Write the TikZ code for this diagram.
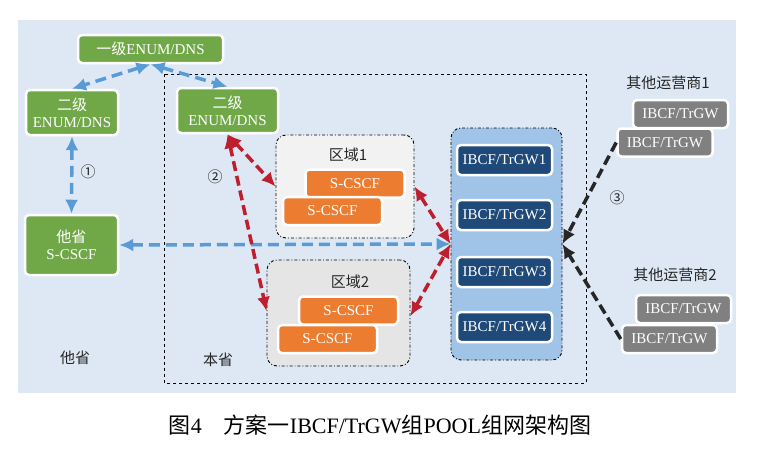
\documentclass[tikz,border=0pt]{standalone}
\usepackage{fontspec}
\setmainfont{Liberation Serif}
\newfontfamily\cjk{Noto Sans CJK SC}
\usepackage{tikz}
\usetikzlibrary{arrows.meta}
\tikzset{>={Latex[length=14pt,width=13pt]}}

\definecolor{panelbg}{RGB}{221,232,244}
\definecolor{boxgreen}{RGB}{112,168,72}
\definecolor{boxorange}{RGB}{236,124,48}
\definecolor{boxnavy}{RGB}{31,73,121}
\definecolor{boxgray}{RGB}{128,128,128}
\definecolor{poolblue}{RGB}{160,196,232}
\definecolor{arrowblue}{RGB}{91,155,213}
\definecolor{arrowred}{RGB}{190,30,45}

\tikzset{
  basebox/.style={rounded corners=4pt, draw=white, line width=2.5pt, text=white,
    inner sep=0pt, align=center, font=\fontsize{15}{17}\selectfont},
  greenbox/.style={basebox, fill=boxgreen},
  orangebox/.style={basebox, fill=boxorange, minimum width=99pt, minimum height=28pt},
  gwbox/.style={basebox, fill=boxnavy, minimum width=95pt, minimum height=30pt},
  opbox/.style={basebox, fill=boxgray, minimum width=95pt, minimum height=28pt},
  regionbox/.style={rounded corners=10pt, draw=black, line width=0.9pt, dash dot},
  lbl/.style={text=black!85, font=\fontsize{15}{17}\selectfont\cjk},
  bluearrow/.style={<->, draw=arrowblue, line width=3.5pt, dash pattern=on 11pt off 6pt},
  redarrow/.style={<->, draw=arrowred, line width=3.5pt, dash pattern=on 10pt off 5pt},
  blackarrow/.style={->, draw=black!85, line width=3.5pt, dash pattern=on 10pt off 5pt}
}

\begin{document}
\begin{tikzpicture}[x=1pt, y=-1pt]
    \useasboundingbox (0,0) rectangle (761,453);
    \fill[panelbg] (18,20) rectangle (736,393);
    % 本省
    \draw[black, line width=0.9pt, dashed] (164,74) rectangle (586,383);
    \node[regionbox, fill=gray!10, minimum width=138pt, minimum height=103pt] (reg1) at (345,186.5) {};
    \node[regionbox, fill=gray!20, minimum width=143pt, minimum height=106pt] (reg2) at (338.5,313) {};
    \node[regionbox, fill=poolblue, minimum width=111pt, minimum height=232pt] (pool) at (506.5,244) {};

    % ENUM/DNS
    \node[greenbox, minimum width=145pt, minimum height=28pt] (enum1) at (150.5,49) {{\cjk 一级}ENUM/DNS};
    \node[greenbox, minimum width=92pt, minimum height=45pt] (enumL) at (72,112.5) {{\cjk 二级}\\ENUM/DNS};
    \node[greenbox, minimum width=101pt, minimum height=45pt] (enumR) at (227.5,110.5) {{\cjk 二级}\\ENUM/DNS};
    \node[greenbox, minimum width=93pt, minimum height=60pt] (other) at (71.5,245) {{\cjk 他省}\\S-CSCF};

    % S-CSCF
    \node[orangebox] (s1a) at (355,183.5) {S-CSCF};
    \node[orangebox] (s1b) at (332.5,211) {S-CSCF};
    \node[orangebox] (s2a) at (348.5,310.5) {S-CSCF};
    \node[orangebox] (s2b) at (327.5,339) {S-CSCF};

    % POOL
    \node[gwbox] (gw1) at (504.5,160) {IBCF/TrGW1};
    \node[gwbox] (gw2) at (504.5,215) {IBCF/TrGW2};
    \node[gwbox] (gw3) at (504.5,272) {IBCF/TrGW3};
    \node[gwbox] (gw4) at (504.5,327) {IBCF/TrGW4};

    % 其他运营商
    \node[opbox] (op1a) at (680.5,114) {IBCF/TrGW};
    \node[opbox] (op1b) at (665,142.5) {IBCF/TrGW};
    \node[opbox] (op2a) at (683.5,309) {IBCF/TrGW};
    \node[opbox] (op2b) at (669.5,339) {IBCF/TrGW};

    \node[lbl] (lreg1) at (348,155) {区域1};
    \node[lbl] (lreg2) at (350,282) {区域2};
    \node[lbl] (lben) at (218,360) {本省};
    \node[lbl] (lta) at (75,358) {他省};
    \node[lbl] (lop1) at (668,83) {其他运营商1};
    \node[lbl] (lop2) at (675,275) {其他运营商2};
    \node[lbl] (n1) at (88,172) {①};
    \node[lbl] (n2) at (215,177) {②};
    \node[lbl] (n3) at (617,198) {③};

    \draw[bluearrow] (enum1.south) -- (enumL.north);
    \draw[bluearrow] (enum1.south) -- (enumR.north);
    \draw[bluearrow] (enumL.south) -- (other.north);
    \draw[bluearrow] (other.east) -- (pool.west);
    \draw[redarrow] (enumR.south) -- (reg1.west);
    \draw[redarrow] (enumR.south) -- ([yshift=2pt]reg2.west);
    \draw[redarrow] (reg1.east) -- (pool.west);
    \draw[redarrow] ([yshift=-3pt]reg2.east) -- (pool.west);
    \draw[blackarrow] (op1b.west) -- (pool.east);
    \draw[blackarrow] (op2b.west) -- (pool.east);

    \node[font=\fontsize{22}{24}\selectfont] (cap) at (380,425) {{\cjk 图}4\hspace{1em}{\cjk 方案一}IBCF/TrGW{\cjk 组}POOL{\cjk 组网架构图}};
\end{tikzpicture}
\end{document}
